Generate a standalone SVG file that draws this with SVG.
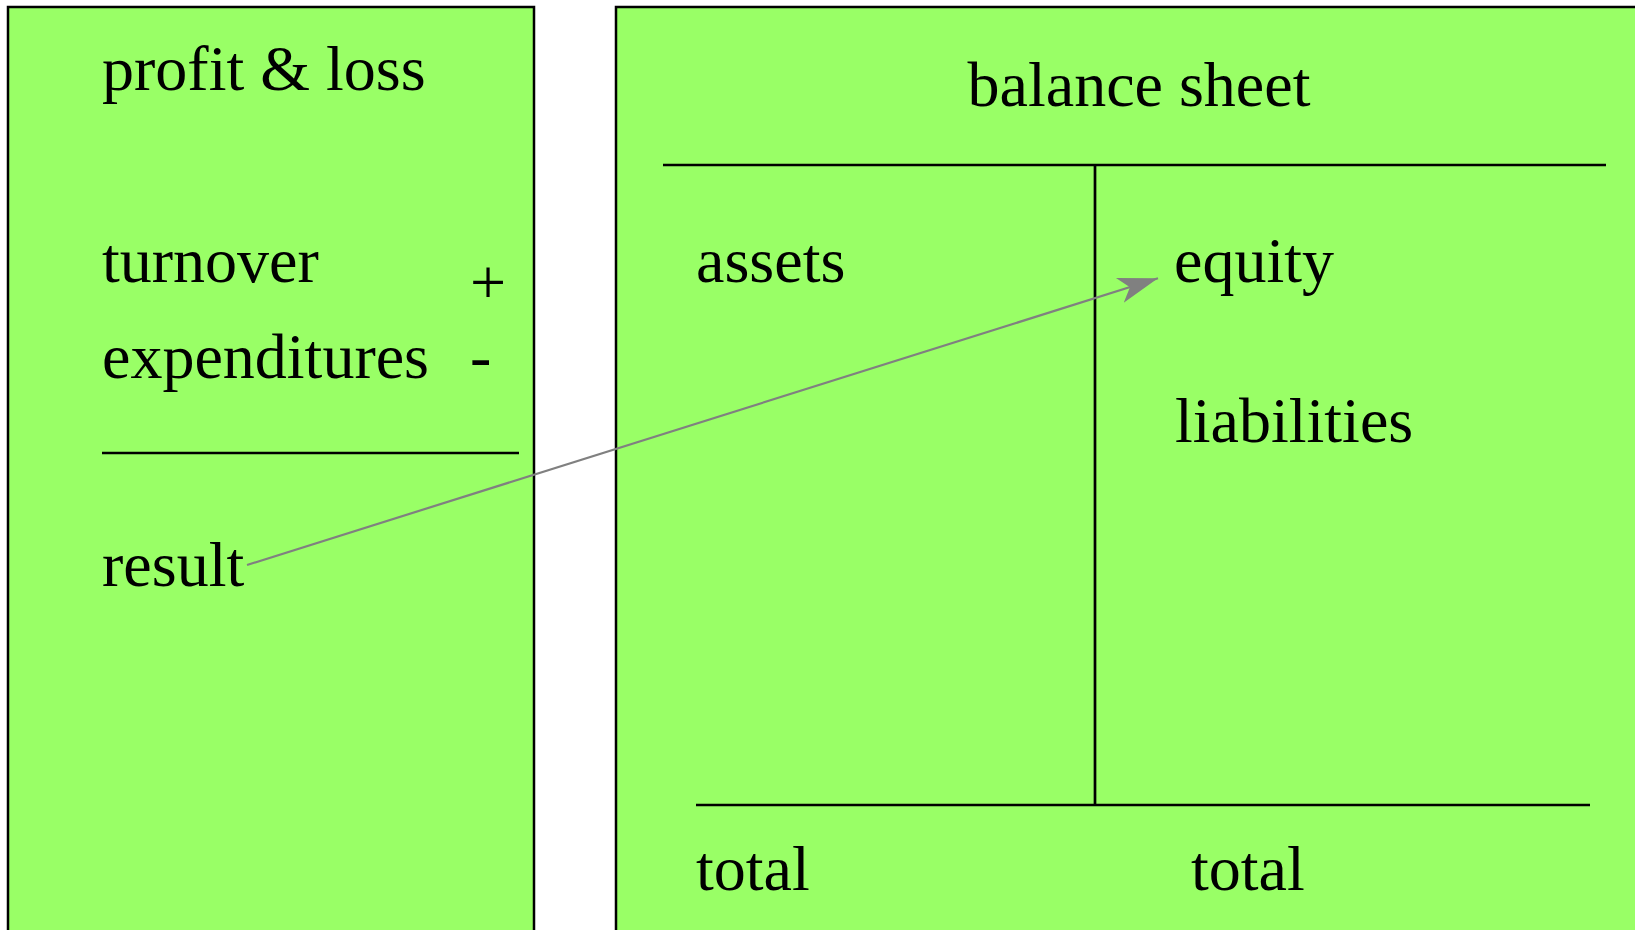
<svg xmlns="http://www.w3.org/2000/svg" width="1635" height="930" viewBox="0 0 1635 930">
  <style>
    .box { fill: #99FF66; stroke: #000000; stroke-width: 2.5; }
    .rule { stroke: #000000; stroke-width: 2.7; fill: none; }
    .t { font-family: "Liberation Serif", "Times New Roman", serif; font-size: 64px; fill: #000000; }
    .conn { stroke: #808080; stroke-width: 2.2; fill: none; }
  </style>
  <defs>
    <marker id="arrow" markerUnits="userSpaceOnUse" markerWidth="40" markerHeight="30" viewBox="0 0 34 24" refX="34" refY="12" orient="auto">
      <path d="M0,1 L34,12 L0,23 L9,12 Z" fill="#808080"/>
    </marker>
  </defs>
  <rect width="1635" height="930" fill="#ffffff"/>
  <g id="profit-loss">
    <rect class="box" x="8" y="7" width="526" height="940"/>
    <text class="t" x="102" y="90">profit &amp; loss</text>
    <text class="t" x="102" y="282">turnover</text>
    <text class="t" x="470" y="304">+</text>
    <text class="t" x="102" y="378">expenditures</text>
    <text class="t" x="470" y="378">-</text>
    <line class="rule" x1="102" y1="453" x2="519" y2="453"/>
    <text class="t" x="102" y="586">result</text>
  </g>
  <g id="balance-sheet">
    <rect class="box" x="616" y="7" width="1040" height="940"/>
    <text class="t" x="1139" y="106" text-anchor="middle">balance sheet</text>
    <line class="rule" x1="663" y1="165" x2="1606" y2="165"/>
    <line class="rule" x1="1095" y1="165" x2="1095" y2="805"/>
    <line class="rule" x1="696" y1="805" x2="1590" y2="805"/>
    <text class="t" x="696" y="282">assets</text>
    <text class="t" x="1174" y="282">equity</text>
    <text class="t" x="1175" y="442">liabilities</text>
    <text class="t" x="696" y="890">total</text>
    <text class="t" x="1191" y="890">total</text>
  </g>
  <g id="connectors">
    <line class="conn" x1="247" y1="565" x2="1158" y2="278.3" marker-end="url(#arrow)"/>
  </g>
</svg>
